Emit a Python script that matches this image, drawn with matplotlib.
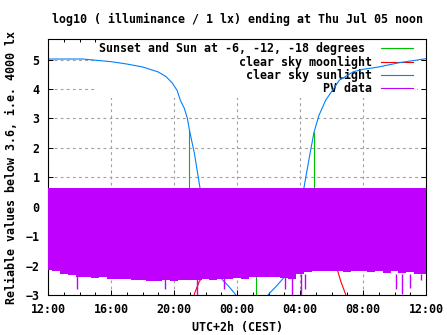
import matplotlib
matplotlib.use("Agg")
import matplotlib.pyplot as plt
from matplotlib.lines import Line2D

plt.rcParams['font.family'] = ['DejaVu Sans Mono']
plt.rcParams['font.weight'] = 'bold'
plt.rcParams['font.size'] = 8.35

# hours since 12:00 on Jul 04
tick_hours = [0, 4, 8, 12, 16, 20, 24]
tick_labels = ["12:00", "16:00", "20:00", "00:00", "04:00", "08:00", "12:00"]

# clear sky sunlight (log10 lx)
sun_hours = [0.0, 2.2, 3.0, 4.0, 5.0, 6.0, 7.0, 7.5, 7.9, 8.2, 8.4, 8.65, 8.85, 8.97,
             9.3, 9.65, 10.0, 10.4, 10.75, 11.03, 11.5, 11.9, 12.2,
             13.8, 13.99, 14.5, 14.94, 15.3, 15.7, 16.0, 16.25, 16.6, 16.89, 17.2,
             17.63, 18.5, 19.4, 20.0, 20.9, 22.35, 24.0]
sun_vals = [5.02, 5.02, 4.98, 4.93, 4.85, 4.75, 4.58, 4.42, 4.2, 3.95, 3.62, 3.35, 3.0, 2.63,
            1.8, 0.64, -0.3, -1.3, -2.0, -2.46, -2.72, -2.98, -3.2,
            -3.2, -2.98, -2.7, -2.43, -1.9, -0.9, -0.1, 0.64, 1.7, 2.53, 3.1,
            3.62, 4.3, 4.59, 4.67, 4.74, 4.9, 5.03]

# clear sky moonlight
moon_hours = [9.2, 9.3, 9.45, 9.6, 9.9, 10.5, 11.5, 12.5, 13.5, 14.5, 15.5, 16.5,
              17.5, 18.0, 18.39, 18.6, 18.9, 19.0]
moon_vals = [-3.2, -2.95, -2.75, -2.55, -2.3, -1.95, -1.6, -1.4, -1.3, -1.3, -1.4, -1.6,
             -1.9, -2.05, -2.18, -2.55, -2.98, -3.2]

# sunset / sun elevation events (impulses from 0)
event_hours = [8.97, 13.21, 16.9]
event_vals = [2.63, -3.5, 2.55]

# PV data envelope
pv_top = 0.63
pv_hours = [0.0, 0.5, 1.0, 1.5, 2.0, 2.5, 3.0, 3.5, 4.0, 4.5, 5.0, 5.5, 6.0, 6.5, 7.0, 7.5,
            8.0, 8.5, 9.0, 9.5, 10.0, 10.5, 11.0, 11.5, 12.0, 12.5, 13.0, 13.5, 14.0, 14.5,
            15.0, 15.5, 16.0, 16.5, 17.0, 17.5, 18.0, 18.5, 19.0, 19.5, 20.0, 20.5, 21.0,
            21.5, 22.0, 22.5, 23.0, 23.5, 24.0]
pv_low = [-2.15, -2.2, -2.3, -2.33, -2.38, -2.4, -2.42, -2.4, -2.45, -2.47, -2.45, -2.5,
          -2.5, -2.52, -2.52, -2.5, -2.52, -2.5, -2.48, -2.5, -2.47, -2.48, -2.45, -2.45,
          -2.43, -2.45, -2.4, -2.38, -2.38, -2.4, -2.42, -2.45, -2.3, -2.22, -2.2, -2.18,
          -2.2, -2.2, -2.22, -2.2, -2.2, -2.22, -2.2, -2.25, -2.2, -2.25, -2.22, -2.28, -2.3]
spike_hours = [1.86, 7.43, 9.44, 11.17, 15.05, 15.49, 16.06, 16.3, 22.1, 22.46, 22.98, 23.7]
spike_vals = [-2.8, -2.8, -3.1, -2.8, -2.8, -3.1, -3.1, -2.8, -2.8, -2.95, -2.75, -2.5]

green = "#00c000"
red = "#ff0000"
blue = "#0080ff"
purple = "#c000ff"

fig = plt.figure(figsize=(4.47, 3.35), dpi=100)
ax = fig.add_axes([48 / 447, 40 / 335, 378 / 447, 256 / 335])

ax.vlines(event_hours, 0, event_vals, color=green, lw=0.8, zorder=2)
ax.plot(moon_hours, moon_vals, color=red, lw=0.8, zorder=2)
ax.plot(sun_hours, sun_vals, color=blue, lw=0.8, zorder=2)
ax.fill_between(pv_hours, pv_low, pv_top, step="mid", color=purple, lw=0, zorder=3)
ax.vlines(spike_hours, -2.3, spike_vals, color=purple, lw=1.0, zorder=3)

ax.set_xlim(0, 24)
ax.set_ylim(-3, 5.7)
ax.set_xticks(tick_hours)
ax.set_xticklabels(tick_labels)
ax.set_xticks(range(0, 25), minor=True)
ax.set_yticks(range(-3, 6))
ax.tick_params(which="both", direction="in", top=True, right=True, width=0.7)
ax.tick_params(which="major", length=3.5)
ax.tick_params(which="minor", length=2)
ax.tick_params(axis="y", pad=6)
ax.tick_params(axis="x", pad=6)
for s in ax.spines.values():
    s.set_linewidth(0.8)

ax.set_axisbelow(True)
ax.grid(True, which="major", color="#a0a0a0", ls=(0, (2.5, 3)), lw=0.8)

handles = [Line2D([], [], color=green, lw=0.8),
           Line2D([], [], color=red, lw=0.8),
           Line2D([], [], color=blue, lw=0.8),
           Line2D([], [], color=purple, lw=0.8)]
labels = ["Sunset and Sun at -6, -12, -18 degrees ", "clear sky moonlight",
          "clear sky sunlight", "PV data"]
leg = ax.legend(handles, labels, loc="upper right", bbox_to_anchor=(0.975, 1.0),
                markerfirst=False, handlelength=2.8, handletextpad=0.7,
                labelspacing=0.0, borderpad=0.3, borderaxespad=0,
                frameon=True, fancybox=False, framealpha=1, edgecolor="none")
leg.set_zorder(1)

fig.text(237 / 447, 1 - 19 / 335, "log10 ( illuminance / 1 lx) ending at Thu Jul 05 noon",
         ha="center", va="center")
fig.text(237 / 447, 1 - 328 / 335, "UTC+2h (CEST)", ha="center", va="center")
fig.text(12 / 447, 1 - 167 / 335, "Reliable values below 3.6, i.e. 4000 lx",
         ha="center", va="center", rotation=90)

fig.savefig("out.png", dpi=100)
